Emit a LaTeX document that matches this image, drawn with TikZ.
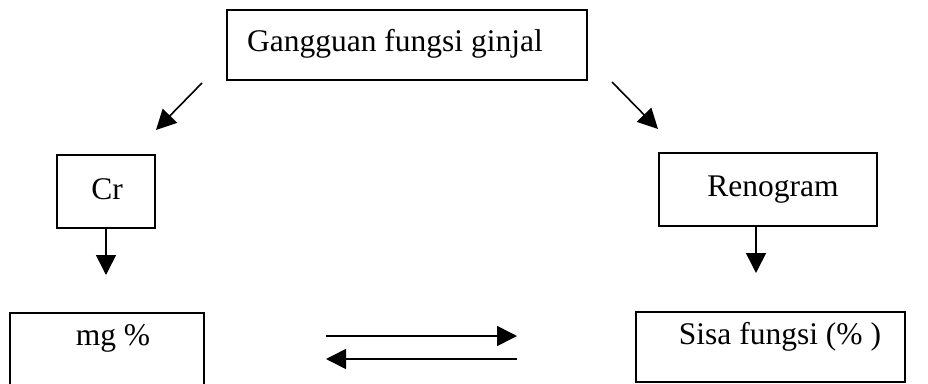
\documentclass[tikz,border=0pt]{standalone}
\usepackage{fontspec}
\setmainfont{Liberation Serif}
\usetikzlibrary{arrows.meta}
\begin{document}
\begin{tikzpicture}[x=1pt,y=-1pt,
  box/.style={draw,line width=1.6pt,inner sep=0pt},
  lbl/.style={inner sep=0pt,font=\fontsize{31.5}{36}\selectfont},
  arr/.style={line width=1.6pt,-{Triangle[length=20pt,width=20pt]}}]
\useasboundingbox (0,0) rectangle (928,383);
\clip (0,0) rectangle (928,383);
% boxes
\node[box,minimum width=360pt,minimum height=70pt] (top) at (407,45) {};
\node[box,minimum width=98pt,minimum height=73pt] (cr) at (106,191.5) {};
\node[box,minimum width=218pt,minimum height=73pt] (reno) at (768,189.5) {};
\node[box,minimum width=194pt,minimum height=90pt] (mg) at (107,358) {};
\node[box,minimum width=269pt,minimum height=70pt] (sisa) at (770.5,347) {};
% labels
\node[lbl] (ttop) at (395,44) {Gangguan fungsi ginjal};
\node[lbl] (tcr) at (107,189) {Cr};
\node[lbl] (treno) at (773,190) {Renogram};
\node[lbl] (tmg) at (113,338) {mg \%};
\node[lbl] (tsisa) at (780,337) {Sisa fungsi (\% )};
% free arrow ends
\coordinate (d1s) at (202,83);
\coordinate (d1e) at (156,130);
\coordinate (d2s) at (612,82);
\coordinate (d2e) at (658,129);
\coordinate (v1e) at (106,275);
\coordinate (v2e) at (756,273);
\coordinate (h1s) at (326,336);
\coordinate (h1e) at (517,336);
\coordinate (h2s) at (517,359);
\coordinate (h2e) at (326,359);
% connectors
\draw[arr] (d1s) -- (d1e);
\draw[arr] (d2s) -- (d2e);
\draw[arr] (cr.south) -- (v1e);
\draw[arr] (reno.south -| v2e) -- (v2e);
\draw[arr] (h1s) -- (h1e);
\draw[arr] (h2s) -- (h2e);
\end{tikzpicture}
\end{document}
